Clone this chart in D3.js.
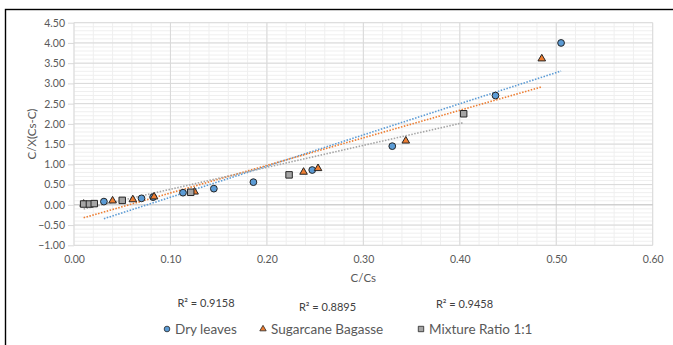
<!DOCTYPE html>
<html>
<head>
<meta charset="utf-8">
<script src="https://cdn.jsdelivr.net/npm/d3@7"></script>
<style>
    body { margin: 0; background: #fff; }
    text { font-family: Lato, 'Open Sans', sans-serif; }
</style>
</head>
<body>
<svg id="chart" width="673" height="345"></svg>
<script>
// values
const dryLeavesX = [0.031, 0.070, 0.082, 0.113, 0.145, 0.186, 0.247, 0.330, 0.437, 0.505];
const dryLeavesY = [0.08, 0.16, 0.19, 0.30, 0.40, 0.56, 0.86, 1.45, 2.70, 4.00];
const bagasseX = [0.010, 0.040, 0.061, 0.083, 0.125, 0.238, 0.253, 0.344, 0.485];
const bagasseY = [0.02, 0.10, 0.13, 0.20, 0.32, 0.81, 0.90, 1.58, 3.61];
const mixtureX = [0.010, 0.016, 0.021, 0.050, 0.121, 0.223, 0.404];
const mixtureY = [0.02, 0.02, 0.03, 0.11, 0.31, 0.74, 2.25];

const seriesNames = ['Dry leaves', 'Sugarcane Bagasse', 'Mixture Ratio 1:1'];
const r2Labels = ['R² = 0.9158', 'R² = 0.8895', 'R² = 0.9458'];
const xTickValues = [0, 0.1, 0.2, 0.3, 0.4, 0.5, 0.6];
const yTickValues = [-1, -0.5, 0, 0.5, 1, 1.5, 2, 2.5, 3, 3.5, 4, 4.5];
const xTitle = 'C/Cs';
const yTitle = 'C/X(Cs-C)';

let width = 673;
let height = 345;
let plotMargins = { top: 22.7, left: 74, right: 20.3, bottom: 99.7 };
let plotWidth = width - plotMargins.left - plotMargins.right;
let plotHeight = height - plotMargins.top - plotMargins.bottom;

let svg = d3.select('#chart');

// outer chart border (only top/left visible in the crop)
svg.append('rect')
    .attr('x', 5.5)
    .attr('y', 9.5)
    .attr('width', 720)
    .attr('height', 400)
    .style('fill', 'none')
    .style('stroke', '#000')
    .style('stroke-width', 1.4);

let plotGroup = svg.append('g')
    .attr('transform', `translate(${plotMargins.left},${plotMargins.top})`);

let xScale = d3.scaleLinear().domain([0, 0.6]).range([0, plotWidth]);
let yScale = d3.scaleLinear().domain([-1, 4.5]).range([plotHeight, 0]);

let styles = [
    { fill: '#5b9bd5', symbol: d3.symbolCircle, size: 36 },
    { fill: '#ed7d31', symbol: d3.symbolTriangle, size: 25 },
    { fill: '#a5a5a5', symbol: d3.symbolSquare, size: 42 }
];

// minor grid
let grid = plotGroup.append('g').classed('grid', true);
grid.selectAll('.minor-x')
    .data(d3.range(0, 31).map(i => i * 0.02))
    .enter().append('line')
    .attr('x1', d => xScale(d)).attr('x2', d => xScale(d))
    .attr('y1', 0).attr('y2', plotHeight)
    .style('stroke', '#efefef').style('stroke-width', 1);
grid.selectAll('.minor-y')
    .data(d3.range(0, 56).map(i => -1 + i * 0.1))
    .enter().append('line')
    .attr('x1', 0).attr('x2', plotWidth)
    .attr('y1', d => yScale(d)).attr('y2', d => yScale(d))
    .style('stroke', '#efefef').style('stroke-width', 1);

// major grid
grid.selectAll('.major-x')
    .data(xTickValues)
    .enter().append('line')
    .attr('x1', d => xScale(d)).attr('x2', d => xScale(d))
    .attr('y1', 0).attr('y2', plotHeight)
    .style('stroke', '#d9d9d9').style('stroke-width', 1);
grid.selectAll('.major-y')
    .data(yTickValues)
    .enter().append('line')
    .attr('x1', 0).attr('x2', plotWidth)
    .attr('y1', d => yScale(d)).attr('y2', d => yScale(d))
    .style('stroke', d => d === 0 ? '#bfbfbf' : '#d9d9d9').style('stroke-width', 1);

// axes
let yAxis = d3.axisLeft(yScale)
    .tickValues(yTickValues)
    .tickFormat(d3.format('.2f'))
    .tickSize(6)
    .tickPadding(3);
let yAxisGroup = plotGroup.append('g').call(yAxis);
yAxisGroup.select('.domain').remove();
yAxisGroup.selectAll('line').style('stroke', '#d9d9d9');
yAxisGroup.selectAll('text')
    .style('font-size', '10.5px')
    .style('fill', '#595959')
    .style('font-family', 'Lato, sans-serif');

let xAxis = d3.axisBottom(xScale)
    .tickValues(xTickValues)
    .tickFormat(d3.format('.2f'))
    .tickSize(0)
    .tickPadding(10);
let xAxisGroup = plotGroup.append('g')
    .attr('transform', `translate(0,${plotHeight})`)
    .call(xAxis);
xAxisGroup.select('.domain').remove();
xAxisGroup.selectAll('text')
    .style('font-size', '10.5px')
    .style('fill', '#595959')
    .style('font-family', 'Lato, sans-serif');

// axis titles
svg.append('text')
    .attr('x', plotMargins.left + plotWidth / 2)
    .attr('y', 282)
    .attr('text-anchor', 'middle')
    .style('font-size', '11.5px')
    .style('fill', '#595959')
    .text(xTitle);
svg.append('text')
    .attr('transform', `translate(36,${plotMargins.top + plotHeight / 2}) rotate(-90)`)
    .attr('text-anchor', 'middle')
    .style('font-size', '11.5px')
    .style('fill', '#595959')
    .text(yTitle);

let allSeries = [
    { xs: dryLeavesX, ys: dryLeavesY },
    { xs: bagasseX, ys: bagasseY },
    { xs: mixtureX, ys: mixtureY }
];

// linear trendlines (least squares over each series)
let trendGroup = plotGroup.append('g').classed('trend', true);
allSeries.forEach((s, i) => {
    let mx = d3.mean(s.xs);
    let my = d3.mean(s.ys);
    let sxy = d3.sum(s.xs, (x, k) => (x - mx) * (s.ys[k] - my));
    let sxx = d3.sum(s.xs, x => (x - mx) * (x - mx));
    let slope = sxy / sxx;
    let intercept = my - slope * mx;
    let ext = d3.extent(s.xs);
    trendGroup.append('line')
        .attr('x1', xScale(ext[0]))
        .attr('y1', yScale(intercept + slope * ext[0]))
        .attr('x2', xScale(ext[1]))
        .attr('y2', yScale(intercept + slope * ext[1]))
        .style('stroke', styles[i].fill)
        .style('stroke-width', 1.6)
        .style('stroke-dasharray', '1.5,1.5');
});

// markers
allSeries.forEach((s, i) => {
    let pts = s.xs.map((x, k) => ({ x: x, y: s.ys[k] }));
    plotGroup.append('g')
        .selectAll('path')
        .data(pts)
        .enter().append('path')
        .attr('transform', d => `translate(${xScale(d.x)},${yScale(d.y)})`)
        .attr('d', d3.symbol().type(styles[i].symbol).size(styles[i].size))
        .style('fill', styles[i].fill)
        .style('stroke', '#262626')
        .style('stroke-width', 1);
});

// R² labels
let r2X = [206, 327.5, 464.5];
let r2Y = [307, 311, 308];
svg.selectAll('.r2')
    .data(r2Labels)
    .enter().append('text')
    .attr('x', (d, i) => r2X[i])
    .attr('y', (d, i) => r2Y[i])
    .attr('text-anchor', 'middle')
    .style('font-size', '11px')
    .style('fill', '#404040')
    .text(d => d);

// legend
let legendMarkerX = [167, 263, 421];
let legend = svg.append('g').attr('transform', 'translate(0,329)');
seriesNames.forEach((name, i) => {
    legend.append('path')
        .attr('transform', `translate(${legendMarkerX[i]},0)`)
        .attr('d', d3.symbol().type(styles[i].symbol).size(styles[i].size * 0.7))
        .style('fill', styles[i].fill)
        .style('stroke', '#262626')
        .style('stroke-width', 0.8);
    legend.append('text')
        .attr('x', legendMarkerX[i] + 8)
        .attr('y', 0)
        .attr('dy', '0.35em')
        .style('font-size', '13.5px')
        .style('fill', '#595959')
        .text(name);
});
</script>
</body>
</html>
